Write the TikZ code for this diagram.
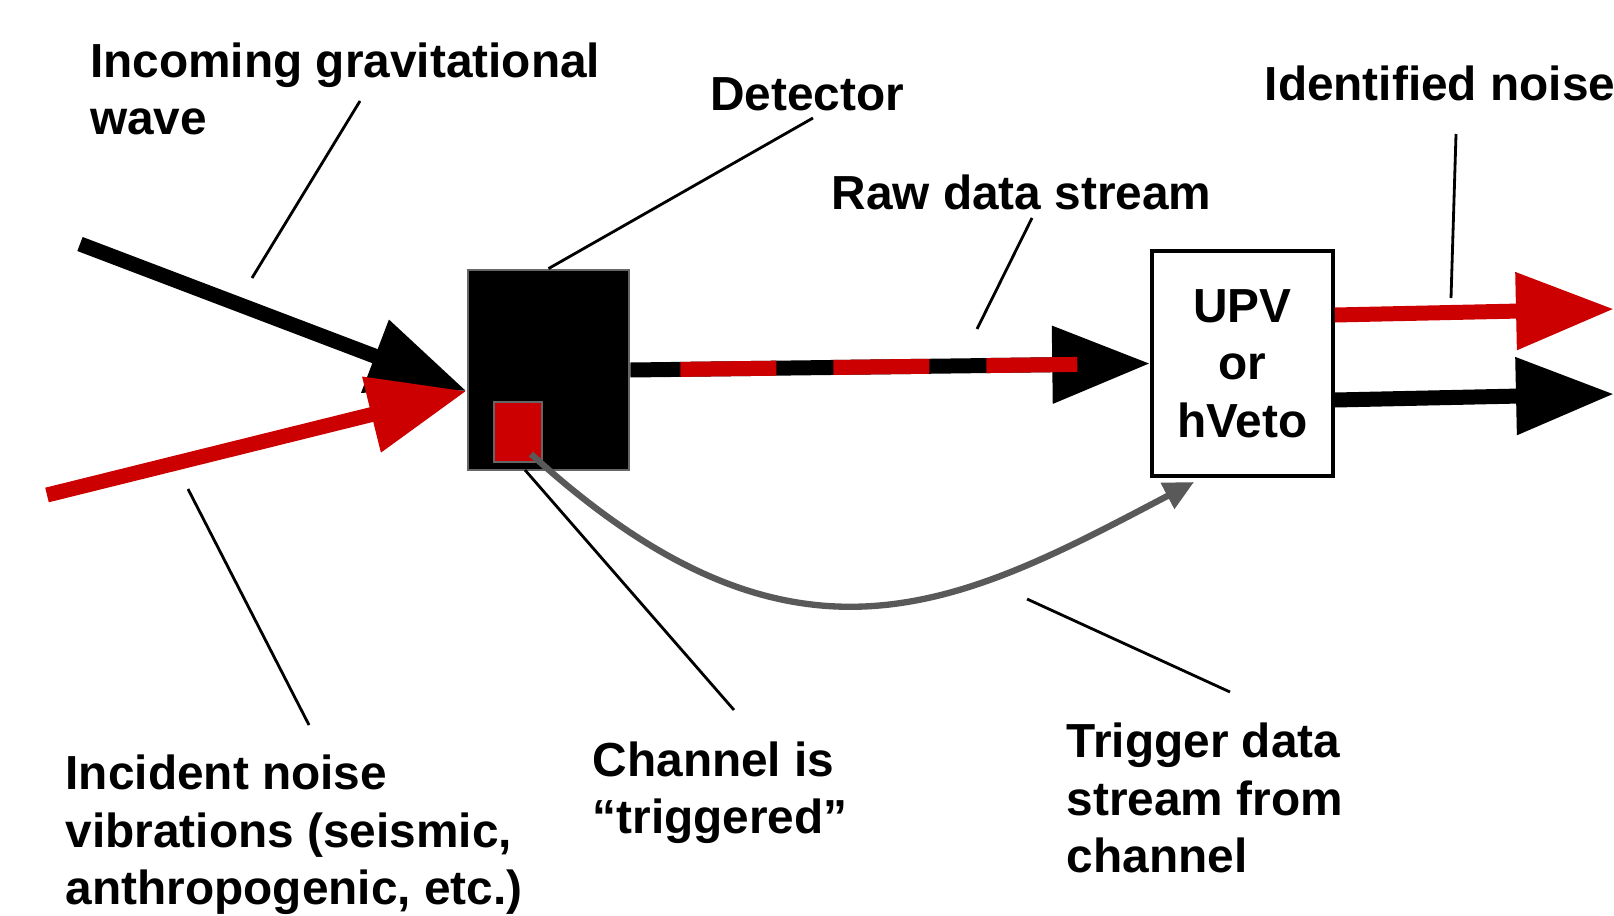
\documentclass[tikz,border=0pt]{standalone}
\usepackage{fontspec}
\setmainfont{Liberation Sans}
\usetikzlibrary{arrows.meta,calc}

\definecolor{noisered}{HTML}{CC0000}
\definecolor{edgegray}{HTML}{666666}
\definecolor{triggray}{HTML}{595959}

\begin{document}
\begin{tikzpicture}[x=1cm,y=-1cm,font=\fontsize{13.6pt}{16.35pt}\selectfont\bfseries,
  tagtext/.style={inner sep=0pt,align=left,anchor=west},
  leader/.style={line width=0.8pt},
  beam/.style={line width=0.15cm,-{Triangle[length=0.98cm,width=0.74cm]}},
  detbox/.style={fill=black,draw=edgegray,line width=0.8pt,inner sep=0pt},
  chanbox/.style={fill=noisered,draw=edgegray,line width=0.8pt,inner sep=0pt},
  upvbox/.style={fill=white,draw=black,line width=1pt,inner sep=0pt,align=center},
  trigline/.style={draw=triggray,line width=1.8pt,-{Triangle[length=0.3cm,width=0.28cm]}}]
  \useasboundingbox (0,0) rectangle (16.14,9.15);

  % Boxes
  \node[detbox,minimum width=1.61cm,minimum height=2cm] (det) at (5.485,3.70) {};
  \node[chanbox,minimum width=0.48cm,minimum height=0.60cm] (chan) at (5.18,4.32) {};
  \node[upvbox,minimum width=1.81cm,minimum height=2.25cm] (upv) at (12.425,3.635) {UPV\\or\\hVeto};

  % Incoming wave and noise
  \coordinate (hit) at ($(det.west)+(0,0.21)$);
  \coordinate (gwsrc) at (0.80,2.44);
  \coordinate (nzsrc) at (0.47,4.95);
  \draw[beam] (gwsrc) -- (hit);
  \draw[beam,noisered] (nzsrc) -- (hit);

  % Raw data stream, noise riding along
  \draw[beam] (det.east) -- (upv.west);
  \draw[noisered,line width=0.15cm,dash pattern=on 0.96cm off 0.57cm,dash phase=1.03cm,shorten >=0.73cm] (det.east) -- (upv.west);

  % Outputs
  \coordinate (redtip) at (16.14,3.09);
  \coordinate (blktip) at (16.14,3.94);
  \draw[beam,noisered] ($(upv.east)+(0,-0.485)$) -- (redtip);
  \draw[beam] ($(upv.east)+(0,0.365)$) -- (blktip);

  % Trigger stream
  \coordinate (trigsrc) at (5.31,4.54);
  \coordinate (trigdst) at (11.94,4.82);
  \draw[trigline] (trigsrc) .. controls (7.95,6.95) and (9.60,6.05) .. (trigdst);

  % Labels
  \node[tagtext] (gwtext) at (0.895,0.89) {Incoming gravitational\\wave};
  \node[inner sep=0pt] (dettext) at (8.07,0.94) {Detector};
  \node[inner sep=0pt] (rawtext) at (10.215,1.92) {Raw data stream};
  \node[tagtext] (idtext) at (12.64,0.83) {Identified noise};
  \node[tagtext] (nztext) at (0.65,8.35) {Incident noise\\vibrations (seismic,\\anthropogenic, etc.)};
  \node[tagtext] (chtext) at (5.92,7.93) {Channel is\\“triggered”};
  \node[tagtext] (trtext) at (10.66,7.98) {Trigger data\\stream from\\channel};

  % Leader lines
  \coordinate (gwA) at (3.60,1.01); \coordinate (gwB) at (2.52,2.78);
  \coordinate (detA) at (8.13,1.18);
  \coordinate (rawA) at (10.32,2.18); \coordinate (rawB) at (9.77,3.29);
  \coordinate (idA) at (14.56,1.34); \coordinate (idB) at (14.51,2.98);
  \coordinate (nzA) at (1.88,4.89); \coordinate (nzB) at (3.09,7.25);
  \coordinate (chA) at (5.25,4.70); \coordinate (chB) at (7.34,7.10);
  \coordinate (trA) at (10.27,5.99); \coordinate (trB) at (12.30,6.92);
  \draw[leader] (gwA) -- (gwB);
  \draw[leader] (detA) -- (det.north);
  \draw[leader] (rawA) -- (rawB);
  \draw[leader] (idA) -- (idB);
  \draw[leader] (nzA) -- (nzB);
  \draw[leader] (chA) -- (chB);
  \draw[leader] (trA) -- (trB);
\end{tikzpicture}
\end{document}
